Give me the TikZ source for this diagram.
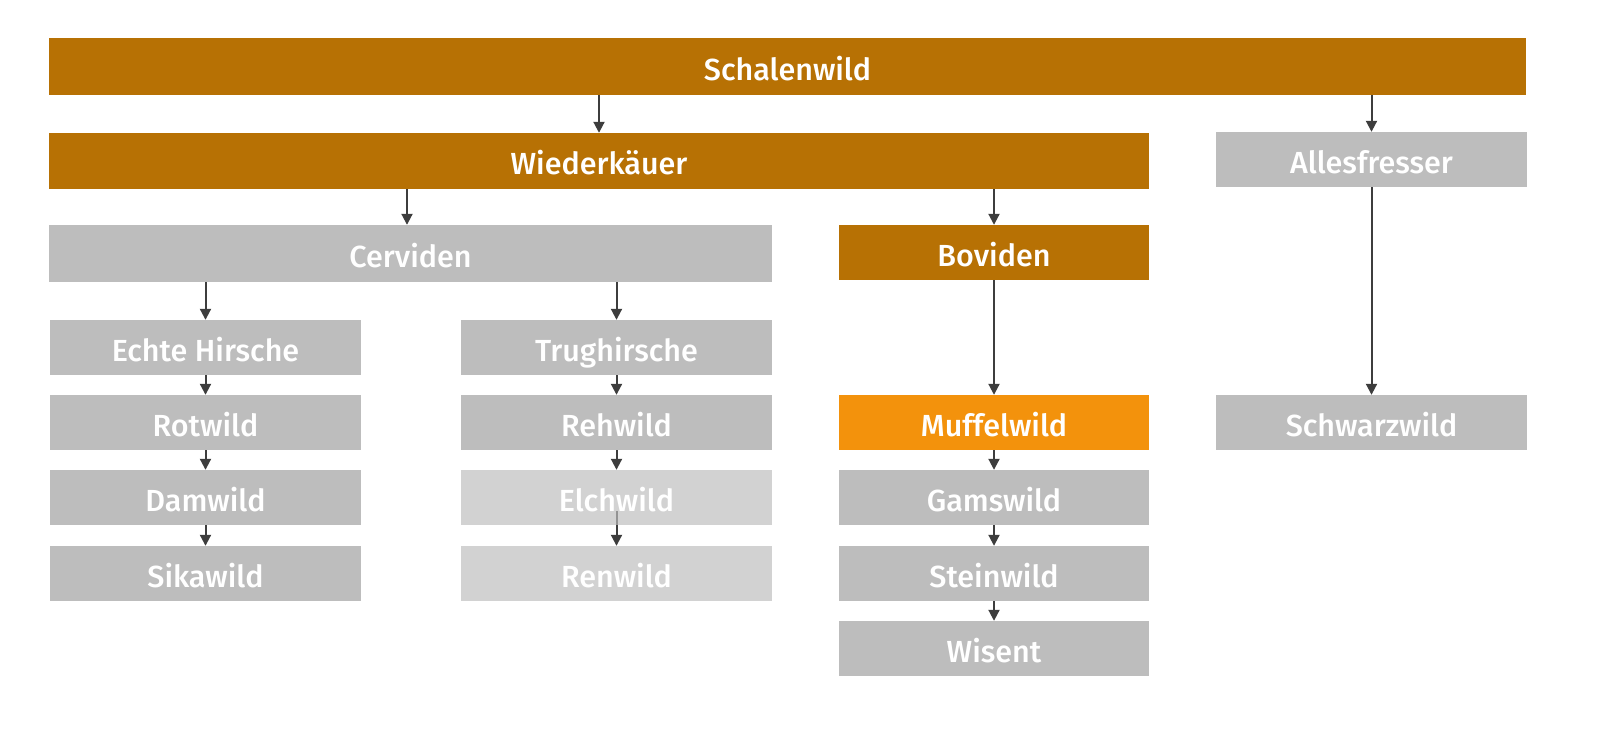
\documentclass[tikz,border=0pt]{standalone}
\usepackage{fontspec}
\setmainfont{Fira Sans}[UprightFont={* Medium}]
\usetikzlibrary{arrows.meta,backgrounds}
\definecolor{brownc}{HTML}{B77104}
\definecolor{orangec}{HTML}{F3920C}
\definecolor{grayc}{HTML}{BDBDBD}
\definecolor{arrowc}{HTML}{3D3D3D}
\tikzset{
  box/.style={rectangle, inner sep=0pt, text=white, font=\fontsize{30.5}{36}\selectfont, text height=27pt, text depth=0pt, minimum width=311pt, minimum height=55pt},
  brownbox/.style={box, fill=brownc},
  graybox/.style={box, fill=grayc},
  faintbox/.style={box, fill=grayc, fill opacity=0.68, text opacity=1},
  orangebox/.style={box, fill=orangec},
  arr/.style={draw=arrowc, line width=2pt, -{Triangle[length=11pt,width=11pt]}}
}
\begin{document}
\begin{tikzpicture}[x=1pt,y=-1pt]
\useasboundingbox (0,0) rectangle (1600,748);
% top levels
\node[brownbox, minimum width=1477pt, minimum height=57pt] (S) at (787.5,66.5) {Schalenwild};
\node[brownbox, minimum width=1100pt, minimum height=56pt] (W) at (599,161) {Wiederkäuer};
\node[graybox, minimum height=55pt] (A) at (1371.5,159.5) {Allesfresser};
\node[graybox, minimum width=723pt, minimum height=57pt] (C) at (410.5,253.5) {Cerviden};
\node[brownbox, minimum width=310pt] (B) at (994,252.5) {Boviden};
% left column
\node[graybox] (EH) at (205.5,347.5) {Echte Hirsche};
\node[graybox] (Rot) at (205.5,422.5) {Rotwild};
\node[graybox] (Dam) at (205.5,497.5) {Damwild};
\node[graybox] (Sika) at (205.5,573.5) {Sikawild};
% middle column
\node[graybox] (T) at (616.5,347.5) {Trughirsche};
\node[graybox] (Reh) at (616.5,422.5) {Rehwild};
\node[faintbox] (Elch) at (616.5,497.5) {Elchwild};
\node[faintbox] (Ren) at (616.5,573.5) {Renwild};
% right column
\node[orangebox, minimum width=310pt] (M) at (994,422.5) {Muffelwild};
\node[graybox, minimum width=310pt] (G) at (994,497.5) {Gamswild};
\node[graybox, minimum width=310pt] (St) at (994,573.5) {Steinwild};
\node[graybox, minimum width=310pt] (Wi) at (994,648.5) {Wisent};
% far right
\node[graybox] (Sw) at (1371.5,422.5) {Schwarzwild};
% connectors
\draw[arr] (W |- S.south) -- (W.north);
\draw[arr] (A |- S.south) -- (A.north);
\draw[arr] ([xshift=-3.5pt]C.north |- W.south) -- ([xshift=-3.5pt]C.north);
\draw[arr] (B |- W.south) -- (B.north);
\draw[arr] (EH |- C.south) -- (EH.north);
\draw[arr] (T |- C.south) -- (T.north);
\draw[arr] (B.south) -- (M.north);
\draw[arr] (A.south) -- (Sw.north);
\draw[arr] (EH.south) -- (Rot.north);
\draw[arr] (Rot.south) -- (Dam.north);
\draw[arr] (Dam.south) -- (Sika.north);
\draw[arr] (T.south) -- (Reh.north);
\draw[arr] (Reh.south) -- (Elch.north);
\begin{pgfonlayer}{background}
\draw[arr] ([yshift=14pt]Elch.south) -- (Ren.north);
\end{pgfonlayer}
\draw[arr] (M.south) -- (G.north);
\draw[arr] (G.south) -- (St.north);
\draw[arr] (St.south) -- (Wi.north);
\end{tikzpicture}
\end{document}
